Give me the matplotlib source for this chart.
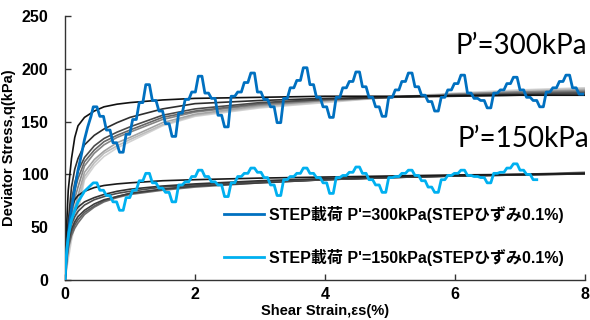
import numpy as np
import matplotlib
matplotlib.use("Agg")
import matplotlib.pyplot as plt

# ---------------- data ----------------
STEP = 0.101  # measured strain width of one loading step (%)

# 300 kPa step-loading test: initial monotonic part
B300_init_x = [0, 0.02, 0.05, 0.08, 0.12, 0.16, 0.2, 0.25, 0.3, 0.35, 0.4]
B300_init_q = [0, 20, 42, 59, 75, 90, 104, 118, 133, 145, 155]
# plateau level of each 0.1% step, starting at strain 0.40
B300_steps = [
    164, 155, 142, 130, 121, 138, 152, 168,
    185, 170, 160, 148, 136, 158, 171, 178,
    193, 177, 172, 156, 145, 174, 178, 187,
    196, 178, 171, 164, 149, 172, 182, 189,
    201, 185, 173, 164, 154, 173, 182, 188,
    197, 183, 173, 164, 155, 173, 180, 188,
    196, 183, 175, 169, 160, 173, 180, 186,
    194, 177, 172, 170, 163, 177, 180, 186,
    192, 180, 173, 170, 164, 178, 182, 188,
    194, 182, 176,
]

# 150 kPa step-loading test
B150_init_x = [0, 0.01, 0.03, 0.06, 0.1, 0.15, 0.2, 0.3, 0.4]
B150_init_q = [0, 15, 30, 45, 57, 66, 74, 84, 90]
B150_steps = [
    92, 85, 80, 74, 66, 78, 85, 94,
    101, 92, 87, 83, 74, 90, 93, 98,
    104, 98, 93, 90, 79, 92, 98, 101,
    106, 102, 97, 90, 80, 95, 98, 101,
    106, 101, 97, 92, 82, 97, 99, 102,
    107, 101, 95, 90, 83, 97, 98, 101,
    104, 99, 94, 88, 83, 95, 99, 101,
    104, 99, 98, 97, 92, 101, 102, 106,
    110, 104, 100, 95,
]

# monotonic (grey) curves
GX = [0, 0.02, 0.05, 0.1, 0.15, 0.2, 0.3, 0.45, 0.6, 0.8, 1.0, 1.5, 2, 3, 4, 5, 6, 7, 8]
G300 = [
    [0, 45, 85, 115, 135, 146, 154, 160, 164, 166.5, 168, 170.5, 172, 173, 174, 174, 174.5, 175, 175],
    [0, 25, 55, 88, 105, 115, 128, 137, 143, 149, 154, 162, 167, 170, 172, 173, 174, 175, 175],
    [0, 20, 45, 75, 92, 103, 116, 127, 134, 140, 145, 156, 162, 168, 171, 173, 175, 176, 177],
    [0, 18, 40, 68, 85, 96, 112, 123, 131, 137, 142, 154, 160, 167, 171, 173, 175, 177, 178],
    [0, 15, 35, 60, 77, 88, 108, 120, 128, 135, 140, 152, 159, 166, 170, 173, 176, 178, 179],
    [0, 12, 30, 52, 68, 80, 102, 114, 122, 130, 135, 149, 157, 165, 170, 173, 176, 178, 180],
    [0, 10, 25, 45, 60, 72, 98, 111, 120, 127, 133, 147, 156, 164, 169, 173, 176, 179, 181],
    [0, 8, 20, 38, 52, 64, 95, 108, 117, 125, 131, 146, 155, 163, 168, 173, 177, 180, 182],
]
G300_col = ["#111111", "#2e2e2e", "#4a4a4a", "#666666", "#858585", "#a3a3a3", "#bcbcbc", "#d2d2d2"]

G150 = [
    [0, 30, 52, 68, 76, 80, 84, 87.5, 89.5, 91, 92, 94, 95, 96.5, 97.5, 98.5, 99.5, 100, 101],
    [0, 25, 45, 58, 65, 69, 74, 78, 81, 84, 86, 89, 91, 94, 96, 97.5, 98.5, 99.5, 100.5],
    [0, 22, 40, 53, 60, 65, 71, 76, 79, 82, 84, 88, 90, 93, 95, 97, 98.5, 99.5, 100.5],
    [0, 20, 36, 48, 55, 60, 66, 72, 76, 79, 82, 86, 89, 92, 95, 97, 98.5, 100, 101],
    [0, 18, 33, 45, 52, 57, 64, 70, 75, 79, 82, 86, 89, 92.5, 95, 97, 98.5, 99.5, 101],
    [0, 15, 30, 42, 49, 54, 62, 69, 74, 78, 81, 85, 88, 92, 95, 97, 99, 100, 102],
]
G150_col = ["#1a1a1a", "#333333", "#4d4d4d", "#3d3d3d", "#5c5c5c", "#707070"]

XTICKS = [0, 2, 4, 6, 8]
YTICKS = [0, 50, 100, 150, 200, 250]
LABEL300 = "STEP載荷 P'=300kPa(STEPひずみ0.1%)"
LABEL150 = "STEP載荷 P'=150kPa(STEPひずみ0.1%)"


def staircase(ix, iq, levels, x0, step, ramp=0.035):
    xs = list(ix)
    ys = list(iq)
    for i, lv in enumerate(levels):
        a = x0 + i * step
        b = a + step
        xs += [a + ramp, b - 0.01]
        ys += [lv, lv]
    return np.array(xs), np.array(ys)


# ---------------- figure ----------------
fig = plt.figure(figsize=(5.9, 3.2), dpi=100)
ax = fig.add_axes([65 / 590, 40 / 320, 520 / 590, 264 / 320])

for q, c in zip(G300[::-1], G300_col[::-1]):
    ax.plot(GX, q, color=c, lw=1.2, zorder=2)
for q, c in zip(G150[::-1], G150_col[::-1]):
    ax.plot(GX, q, color=c, lw=1.2, zorder=2)

x3, y3 = staircase(B300_init_x, B300_init_q, B300_steps, 0.40, STEP)
x1, y1 = staircase(B150_init_x, B150_init_q, B150_steps, 0.40, STEP)
l3, = ax.plot(x3, y3, color="#0070C0", lw=2.0, zorder=3, solid_joinstyle="round")
l1, = ax.plot(x1, y1, color="#00B0F0", lw=2.0, zorder=3, solid_joinstyle="round")

ax.set_xlim(0, 8)
ax.set_ylim(0, 250)
ax.set_xticks(XTICKS)
ax.set_yticks(YTICKS)
for s in ["top", "right"]:
    ax.spines[s].set_visible(False)
for s in ["left", "bottom"]:
    ax.spines[s].set_color("#333333")
    ax.spines[s].set_linewidth(1.0)
ax.tick_params(direction="in", length=4, width=1, colors="#333333", labelcolor="black")
ax.tick_params(axis="y", pad=12)
ax.tick_params(axis="x", pad=5)
for lab in ax.get_xticklabels() + ax.get_yticklabels():
    lab.set_fontfamily("Liberation Sans")
    lab.set_fontweight("bold")
    lab.set_fontsize(11.5)

ax.set_xlabel("Shear Strain,εs(%)", fontfamily="Liberation Sans", fontweight="bold", fontsize=10.5)
ax.xaxis.set_label_coords(0.5, -(311 - 280) / 264)
ax.xaxis.label.set_verticalalignment("center")
ax.set_ylabel("Deviator Stress,q(kPa)", fontfamily="Liberation Sans", fontweight="bold", fontsize=10.5, labelpad=4)

leg = ax.legend([l3, l1], [LABEL300, LABEL150], loc="upper left",
                bbox_to_anchor=((224 - 65) / 520, (280 - 206) / 264),
                frameon=False, handlelength=2.5, handletextpad=0.3, labelspacing=1.6,
                borderaxespad=0, borderpad=0,
                prop=dict(family=["Liberation Sans", "Noto Sans CJK JP"], weight="bold", size=11.5))

fig.text(587 / 590, 1 - 54 / 320, "P’=300kPa", ha="right", va="baseline", fontsize=20, family="Lato")
fig.text(589 / 590, 1 - 147 / 320, "P’=150kPa", ha="right", va="baseline", fontsize=20, family="Lato")

fig.savefig("out.png", dpi=100)
